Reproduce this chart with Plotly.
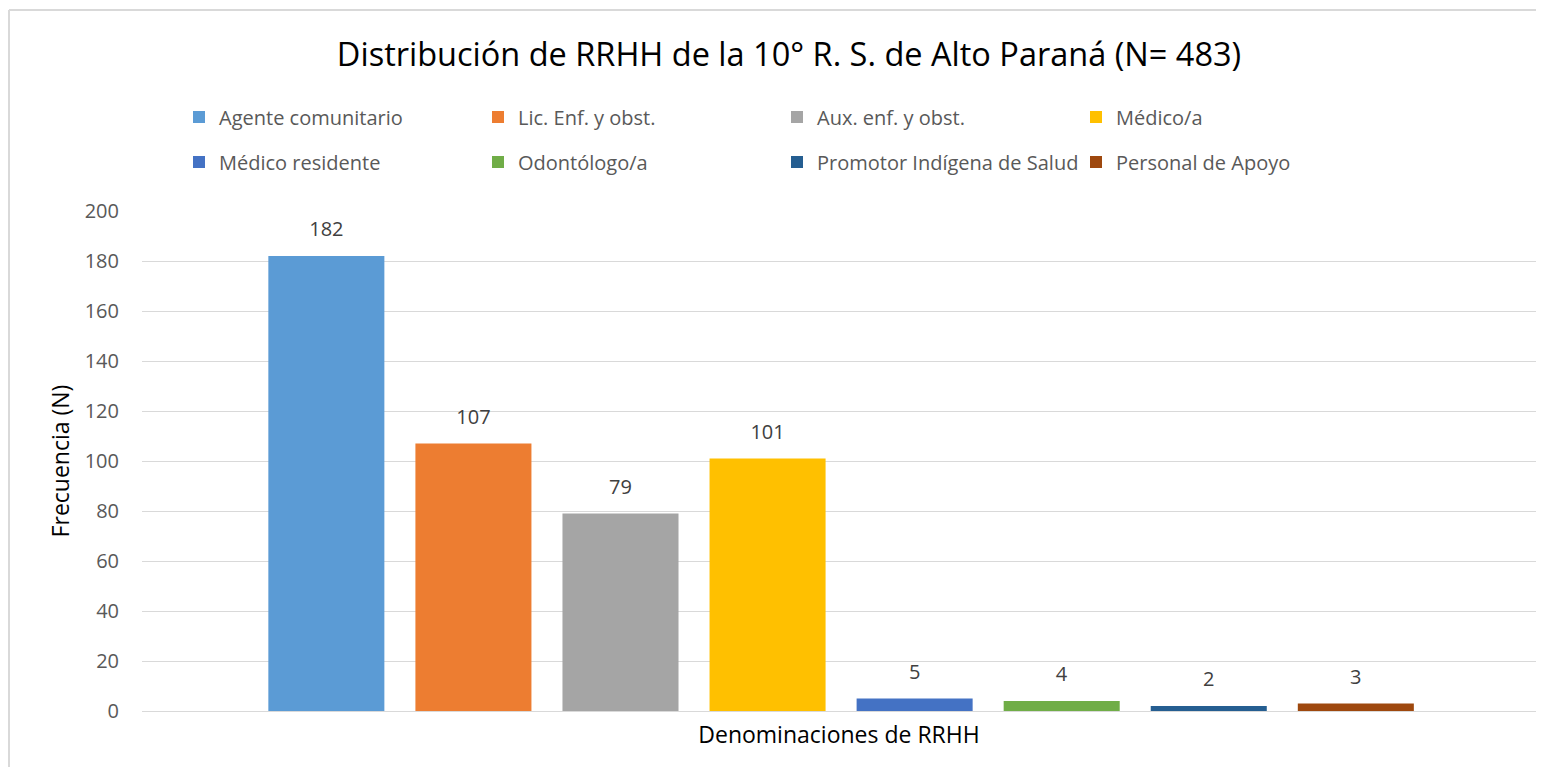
import plotly.graph_objects as go

categories = ["Agente comunitario", "Lic. Enf. y obst.", "Aux. enf. y obst.", "Médico/a",
              "Médico residente", "Odontólogo/a", "Promotor Indígena de Salud", "Personal de Apoyo"]
values = [182, 107, 79, 101, 5, 4, 2, 3]
colors = ["#5B9BD5", "#ED7D31", "#A5A5A5", "#FFC000", "#4472C4", "#70AD47", "#255E91", "#9E480E"]
y_ticks = [0, 20, 40, 60, 80, 100, 120, 140, 160, 180, 200]

FONT = "Open Sans"
W, H = 1528, 759          # page body has an 8px default margin on every side
L, R, T, B = 134, 0, 203, 56
PW, PH = W - L - R, H - T - B

fig = go.Figure()
for i, (name, v, c) in enumerate(zip(categories, values, colors)):
    fig.add_trace(go.Bar(
        x=["Denominaciones de RRHH"], y=[v], name=name, marker_color=c,
        marker_line_width=0,
        text=[str(v)], textposition="outside",
        texttemplate="<span style='font-size:20px'>%{y}</span><br><span style='font-size:1px'>&nbsp;</span>",
        textfont=dict(family=FONT, size=13, color="#404040"),
        cliponaxis=False,
        legend="legend" if i < 4 else "legend2",
    ))

leg_common = dict(orientation="h", x=171 / W, xref="container", xanchor="left",
                  yref="container", yanchor="middle",
                  entrywidth=254, entrywidthmode="pixels",
                  font=dict(family=FONT, size=20, color="#595959"),
                  bgcolor="rgba(0,0,0,0)")

fig.update_layout(
    width=W, height=H,
    margin=dict(l=L, r=R, t=T, b=B),
    paper_bgcolor="white", plot_bgcolor="white",
    barmode="group", bargap=0.156, bargroupgap=0.211,
    font=dict(family=FONT, color="#595959"),
    title=dict(text="Distribución de RRHH de la 10° R. S. de Alto Paraná (N= 483)",
               x=781 / W, xref="container", xanchor="center",
               y=1 - 47 / H, yref="container", yanchor="middle",
               font=dict(family=FONT, size=32.5, color="#000000")),
    legend=dict(**leg_common, y=1 - 109 / H),
    legend2=dict(**leg_common, y=1 - 154 / H),
    xaxis=dict(showticklabels=False, showgrid=False, zeroline=False,
               showline=False, range=[-0.5015, 0.4985],
               title=dict(text="Denominaciones de RRHH", standoff=15,
                          font=dict(family=FONT, size=23, color="#000000"))),
    yaxis=dict(range=[0, 200], tickvals=y_ticks, showgrid=True, gridcolor="#D9D9D9",
               gridwidth=1, zeroline=True, zerolinecolor="#D9D9D9", zerolinewidth=1,
               ticklabelstandoff=22,
               tickfont=dict(family=FONT, size=20, color="#595959"),
               title=dict(text="Frecuencia (N)", standoff=8,
                          font=dict(family=FONT, size=23, color="#000000"))),
    showlegend=True,
)
# outer chart border (top and left edges visible)
top_y = (H - B - 2) / PH
left_x = (1 - L) / PW
fig.add_shape(type="line", xref="paper", yref="paper",
              x0=left_x, x1=(W - L) / PW, y0=top_y, y1=top_y,
              line=dict(color="#D9D9D9", width=2))
fig.add_shape(type="line", xref="paper", yref="paper",
              x0=left_x, x1=left_x, y0=top_y, y1=-B / PH,
              line=dict(color="#D9D9D9", width=2))

fig.write_html("out.html")
